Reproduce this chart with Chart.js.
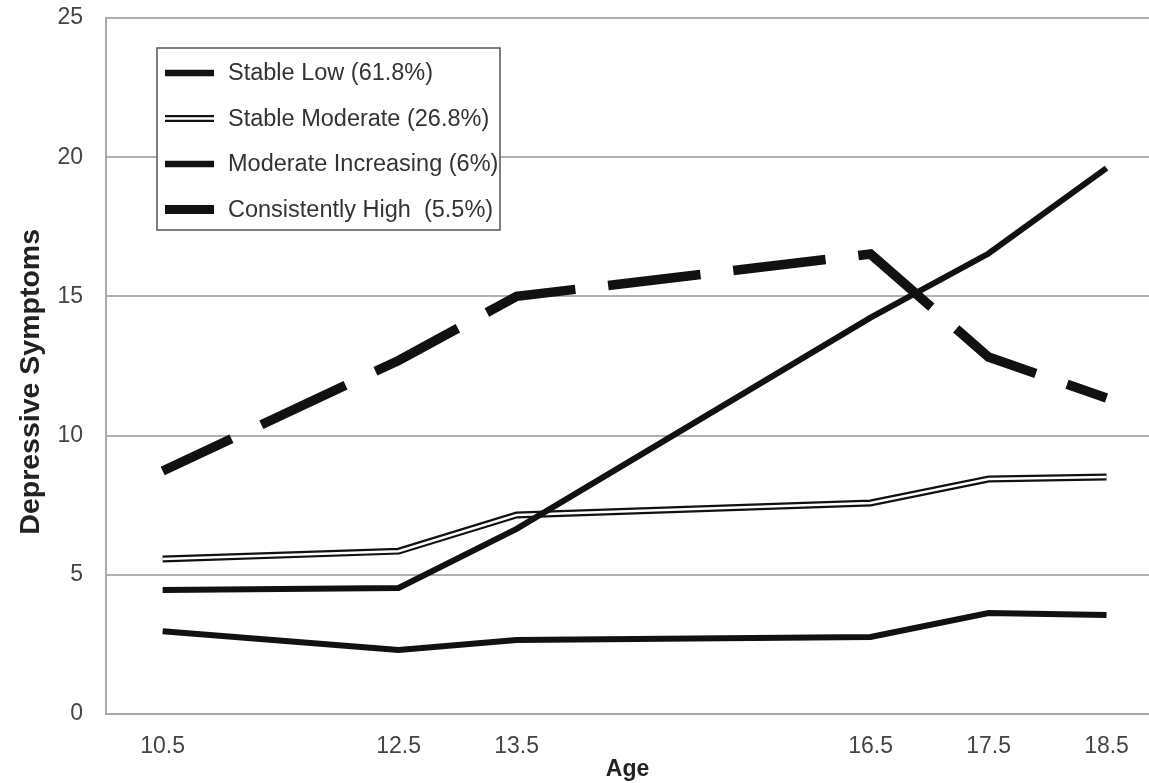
<!DOCTYPE html>
<html>
<head>
<meta charset="utf-8">
<script src="https://cdn.jsdelivr.net/npm/chart.js@4.4.1/dist/chart.umd.min.js"></script>
<style>
  html, body { margin: 0; padding: 0; background: #fff; }
  canvas { display: block; }
</style>
</head>
<body>
<canvas id="trajChart" width="1149" height="783"></canvas>
<script>
// Data
const ages = [10.5, 12.5, 13.5, 16.5, 17.5, 18.5];
const stableLow = [2.97, 2.3, 2.66, 2.77, 3.63, 3.56];
const stableModerate = [5.57, 5.85, 7.15, 7.58, 8.44, 8.51];
const moderateIncreasing = [4.45, 4.53, 6.65, 14.24, 16.54, 19.61];
const consistentlyHigh = [8.73, 12.7, 15.0, 16.52, 12.82, 11.35];
const seriesLabels = ['Stable Low (61.8%)', 'Stable Moderate (26.8%)', 'Moderate Increasing (6%)', 'Consistently High  (5.5%)'];
const yTicks = [0, 5, 10, 15, 20, 25];

const FONT = "'Liberation Sans', Arial, sans-serif";

function pts(values) {
  return ages.map((a, i) => ({ x: a, y: values[i] }));
}

// legend drawn as a boxed key inside the plot, like the original
const boxLegend = {
  id: 'boxLegend',
  afterDatasetsDraw(chart) {
    const ctx = chart.ctx;
    ctx.save();
    ctx.fillStyle = '#fff';
    ctx.fillRect(157, 48, 343, 182);
    ctx.strokeStyle = '#555';
    ctx.lineWidth = 1.5;
    ctx.strokeRect(157, 48, 343, 182);

    const rows = [73, 118.5, 164, 209.5];
    ctx.font = '23.5px ' + FONT;
    ctx.textBaseline = 'middle';
    rows.forEach((y, i) => {
      ctx.strokeStyle = '#111';
      ctx.lineCap = 'butt';
      if (i === 1) {
        ctx.lineWidth = 7;
        ctx.beginPath(); ctx.moveTo(165, y); ctx.lineTo(214, y); ctx.stroke();
        ctx.strokeStyle = '#fff';
        ctx.lineWidth = 2.5;
        ctx.beginPath(); ctx.moveTo(165, y); ctx.lineTo(214, y); ctx.stroke();
      } else {
        ctx.lineWidth = i === 3 ? 9 : 6.5;
        ctx.beginPath(); ctx.moveTo(165, y); ctx.lineTo(214, y); ctx.stroke();
      }
      ctx.fillStyle = '#333';
      ctx.fillText(seriesLabels[i], 228, y + 1);
    });
    ctx.restore();
  }
};

const ctx = document.getElementById('trajChart').getContext('2d');
new Chart(ctx, {
  type: 'line',
  data: {
    datasets: [
      {
        label: seriesLabels[0],
        data: pts(stableLow),
        borderColor: '#111',
        borderWidth: 6,
        order: 5
      },
      {
        label: seriesLabels[1],
        data: pts(stableModerate),
        borderColor: '#111',
        borderWidth: 7,
        order: 4
      },
      {
        label: seriesLabels[1] + ' inner',
        data: pts(stableModerate),
        borderColor: '#fff',
        borderWidth: 2.5,
        order: 3
      },
      {
        label: seriesLabels[2],
        data: pts(moderateIncreasing),
        borderColor: '#111',
        borderWidth: 6,
        order: 2
      },
      {
        label: seriesLabels[3],
        data: pts(consistentlyHigh),
        borderColor: '#111',
        borderWidth: 9.5,
        borderDash: [93, 33],
        borderDashOffset: 17,
        order: 1
      }
    ]
  },
  options: {
    responsive: false,
    animation: false,
    layout: { padding: { top: 18, right: 0, left: 0, bottom: 0 } },
    elements: {
      point: { radius: 0 },
      line: { tension: 0, fill: false, borderCapStyle: 'butt', borderJoinStyle: 'miter' }
    },
    plugins: {
      legend: { display: false },
      tooltip: { enabled: false }
    },
    scales: {
      x: {
        type: 'linear',
        min: 10.02,
        max: 18.86,
        afterBuildTicks: s => { s.ticks = ages.map(v => ({ value: v })); },
        afterFit: s => { s.height = 69; s.paddingLeft = 0; s.paddingRight = 0; },
        grid: { display: false, drawTicks: false },
        border: { display: true, color: '#aaa', width: 2 },
        ticks: {
          padding: 19,
          color: '#444',
          font: { family: FONT, size: 23 },
          maxRotation: 0,
          callback: v => v.toFixed(1)
        },
        title: {
          display: true,
          text: 'Age',
          color: '#222',
          font: { family: FONT, size: 23, weight: 'bold' },
          padding: { top: 0, bottom: 0 }
        }
      },
      y: {
        min: 0,
        max: 25,
        afterBuildTicks: s => { s.ticks = yTicks.map(v => ({ value: v })); },
        afterFit: s => { s.width = 106; s.paddingTop = 0; s.paddingBottom = 0; },
        grid: { color: '#b0b0b0', lineWidth: 2, drawTicks: false },
        border: { display: true, color: '#aaa', width: 2 },
        ticks: {
          padding: 23,
          color: '#444',
          font: { family: FONT, size: 23 }
        },
        title: {
          display: true,
          // trailing spaces nudge the rotated title down, as in the original
          text: 'Depressive Symptoms    ',
          color: '#222',
          font: { family: FONT, size: 28.5, weight: 'bold' },
          padding: { top: 14, bottom: 0 }
        }
      }
    }
  },
  plugins: [boxLegend]
});
</script>
</body>
</html>
